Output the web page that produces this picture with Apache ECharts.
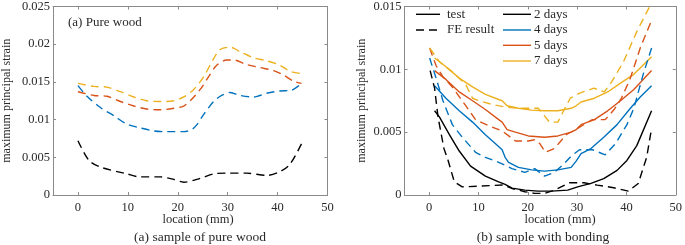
<!DOCTYPE html>
<html><head><meta charset="utf-8">
<script src="https://cdn.jsdelivr.net/npm/echarts@6/dist/echarts.min.js"></script>
<style>html,body{margin:0;padding:0;background:#fff}#c{width:685px;height:245px}</style>
</head><body><div id="c"></div>
<script>
// ---- (a) pure wood : FE results (dashed) ----
var pwBlack = [[0,0.0072],[2.2,0.0046],[4.5,0.0037],[9.8,0.0028],[12.5,0.0024],[16.5,0.0024],[19,0.0021],[21.2,0.0017],[24.5,0.0022],[27.2,0.0028],[29.8,0.0029],[33.8,0.0029],[37.8,0.0026],[40.5,0.0031],[42.5,0.0041],[44.8,0.0068]];
var pwBlue = [[0,0.0145],[1.8,0.0131],[4.5,0.0116],[7.2,0.0105],[9.8,0.0094],[12.5,0.0089],[15.2,0.0085],[17.8,0.0084],[21.2,0.0084],[22.8,0.0087],[23.8,0.0093],[25.2,0.0107],[27.2,0.0124],[28.8,0.0132],[30.5,0.0136],[32.5,0.0132],[35.2,0.0130],[37.8,0.0135],[40.5,0.0138],[42.8,0.0139],[44.8,0.0148]];
var pwOrange = [[0,0.0137],[3.2,0.0132],[5.8,0.0131],[8.5,0.0124],[11.2,0.0118],[13.8,0.0114],[16.5,0.0113],[19.2,0.0115],[21.2,0.0118],[22.8,0.0127],[24.5,0.0140],[26.2,0.0157],[27.8,0.0172],[29.8,0.0179],[31.2,0.0179],[33.8,0.0173],[36.5,0.0169],[39.2,0.0165],[41.2,0.0159],[43.2,0.0151],[44.8,0.0148]];
var pwYellow = [[0,0.0148],[3.2,0.0144],[5.8,0.0143],[8.5,0.0137],[11.2,0.0130],[13.8,0.0125],[16.5,0.0124],[19.2,0.0125],[21.2,0.0130],[23.2,0.0140],[25.2,0.0157],[27.2,0.0181],[28.5,0.0193],[30.5,0.0196],[32.5,0.0190],[35.2,0.0182],[37.8,0.0178],[40.5,0.0172],[42.5,0.0164],[44.8,0.0161]];

// ---- (b) with bonding : test (solid) ----
var tBlack = [[1.1,0.0067],[2.1,0.0062],[4.1,0.0048],[6.1,0.0035],[8.4,0.0023],[11.4,0.0015],[14.1,0.00105],[15.4,0.00084],[16.8,0.00055],[19.4,0.00039],[22.1,0.00031],[24.8,0.00031],[28.1,0.00039],[30.1,0.00065],[32.8,0.00092],[35.4,0.00131],[38.1,0.00196],[40.1,0.00275],[42.1,0.00393],[45.1,0.0067]];
var tBlue = [[1.1,0.0087],[3.4,0.0077],[6.1,0.0067],[8.8,0.0058],[11.4,0.0048],[13.4,0.0041],[14.8,0.0036],[15.4,0.0030],[16.1,0.0026],[18.1,0.0022],[20.8,0.0020],[23.4,0.0019],[26.1,0.0020],[28.8,0.0022],[29.8,0.0027],[30.8,0.0033],[32.8,0.0037],[35.4,0.0046],[38.1,0.0056],[40.8,0.0069],[42.8,0.0078],[45.1,0.0087]];
var tOrange = [[1.1,0.0099],[3.4,0.0092],[6.1,0.0082],[8.8,0.0075],[11.4,0.0068],[14.1,0.0060],[14.8,0.0058],[15.8,0.0052],[17.5,0.0050],[20.1,0.0047],[23.4,0.0046],[26.1,0.0047],[28.8,0.0050],[29.8,0.0052],[30.8,0.0056],[33.5,0.0060],[36.2,0.0067],[38.8,0.0075],[41.5,0.0084],[45.1,0.0099]];
var tYellow = [[1.1,0.0109],[3.4,0.0102],[6.1,0.0093],[8.8,0.0086],[11.4,0.0080],[14.1,0.0076],[14.8,0.0075],[15.8,0.0071],[18.1,0.0069],[20.8,0.00675],[23.4,0.0067],[26.1,0.0067],[28.8,0.0069],[29.8,0.0071],[30.8,0.0074],[33.5,0.0077],[36.2,0.0082],[38.8,0.0089],[41.5,0.0096],[45.1,0.0110]];

// ---- (b) with bonding : FE result (dashed) ----
var fBlack = [[0.2,0.0099],[1.1,0.0085],[1.8,0.0062],[3,0.0037],[3.8,0.0028],[5.1,0.00105],[6.7,0.00065],[10.1,0.0007],[15.1,0.0008],[16.8,0.00052],[19.4,0.00026],[21.4,0.00013],[23.4,0.00013],[25.4,0.00039],[28.4,0.00097],[31.4,0.00097],[34.1,0.00079],[37.4,0.00058],[40.4,0.00031],[42.4,0.00092],[44.1,0.0030],[45.1,0.0053]];
var fBlue = [[0.1,0.0109],[1.4,0.0093],[2.8,0.0075],[4.7,0.0056],[6.7,0.0046],[9.4,0.0034],[11.4,0.0030],[14.1,0.0026],[16.8,0.0021],[19.4,0.0018],[21.4,0.0021],[23.4,0.0015],[25.4,0.0018],[27.4,0.0025],[28.8,0.0031],[30.5,0.0036],[33.1,0.0036],[35.7,0.0032],[37.8,0.0041],[40.1,0.0056],[41.5,0.0069],[43.4,0.0096],[45.1,0.0117]];
var fOrange = [[0.1,0.0117],[1.4,0.0103],[2.8,0.0094],[4.7,0.0086],[6.7,0.0075],[9.4,0.0060],[12.1,0.0055],[14.8,0.0051],[17.5,0.0043],[20.1,0.0043],[21.4,0.0044],[22.4,0.0041],[23.6,0.0034],[25.4,0.0037],[27.8,0.0048],[30.1,0.0053],[33.1,0.0060],[35.7,0.0060],[37.5,0.0068],[39,0.0077],[40.8,0.0093],[42.8,0.0117],[45.1,0.0139]];
var fYellow = [[0.1,0.0117],[2.1,0.0106],[4.7,0.0098],[7.4,0.0088],[8.8,0.0077],[10.1,0.0075],[12.8,0.0072],[15.4,0.0070],[18.1,0.0069],[20.8,0.0069],[22.1,0.0069],[23.4,0.0063],[24.4,0.0058],[26.1,0.0058],[27.4,0.0068],[28.6,0.0077],[30.5,0.0081],[33.4,0.0085],[35.5,0.0082],[37,0.0090],[39.4,0.0106],[42.1,0.0130],[45.1,0.0153]];

var xTicks = [0, 10, 20, 30, 40, 50];
var yTicksA = [0, 0.005, 0.01, 0.015, 0.02, 0.025];
var yTicksB = [0, 0.005, 0.01, 0.015];
var legendTest = ['test', 'FE result'];
var legendDays = ['2 days', '4 days', '5 days', '7 days'];

var C = {black:'#000000', blue:'#0072BD', orange:'#D95319', yellow:'#EDB120'};
var FONT = 'Liberation Serif';
var axisCol = '#8a8a8a', labCol = '#2a2a2a';
var dash = [8, 5];

function xAx(gi, pos) {
  var bottom = pos === 'bottom';
  return {
    type:'value', gridIndex:gi, position:pos, min:-5, max:50,
    axisLine:{show:true, onZero:false, lineStyle:{color:axisCol, width:1}},
    axisTick:{show:true, inside:true, length:3, lineStyle:{color:axisCol}},
    splitLine:{show:false},
    axisLabel:{show:bottom, showMinLabel:false, margin:6, color:labCol, fontFamily:FONT, fontSize:12.5,
      formatter:function(v){return xTicks.indexOf(v) >= 0 ? String(v) : '';}}
  };
}
function yAx(gi, pos, max, nameGap) {
  var left = pos === 'left';
  var ticks = max > 0.02 ? yTicksA : yTicksB;
  return {
    type:'value', gridIndex:gi, position:pos, min:0, max:max, interval:0.005,
    name: left ? 'maximum principal strain' : '', nameLocation:'middle', nameGap:nameGap,
    nameTextStyle:{color:labCol, fontFamily:FONT, fontSize:12},
    axisLine:{show:true, onZero:false, lineStyle:{color:axisCol, width:1}},
    axisTick:{show:true, inside:true, length:3, lineStyle:{color:axisCol}},
    splitLine:{show:false},
    axisLabel:{show:left, margin:3, color:labCol, fontFamily:FONT, fontSize:12.5,
      formatter:function(v){var r = +v.toFixed(3); return ticks.indexOf(r) >= 0 ? String(r) : '';}}
  };
}
function ln(data, color, dashed, xi, yi) {
  return {type:'line', data:data, xAxisIndex:xi, yAxisIndex:yi, showSymbol:false, symbol:'none',
    smooth:dashed && xi < 2 && yi === 0 ? 0.3 : false, clip:true, animation:false,
    lineStyle:{color:color, width:1.4, type: dashed ? dash : 'solid'}};
}

var graphics = [];
function txt(x, y, s, size, align) {
  graphics.push({type:'text', x:x, y:y, style:{text:s, fill:labCol, font:size+'px "'+FONT+'"', textAlign:align||'left', textVerticalAlign:'middle'}});
}
function seg(x1, x2, y, color, dashed) {
  graphics.push({type:'line', shape:{x1:x1, y1:y, x2:x2, y2:y}, style:{stroke:color, lineWidth:1.4, lineDash: dashed ? [8,5] : null}});
}
txt(68, 23, '(a) Pure wood', 13);
txt(198, 220, 'location (mm)', 12.5, 'center');
txt(200, 237, '(a) sample of pure wood', 13.5, 'center');
txt(560, 220, 'location (mm)', 12.5, 'center');
txt(543, 237, '(b) sample with bonding', 13.5, 'center');
// legend
seg(416, 440, 14.3, C.black, false); txt(447, 14.3, legendTest[0], 13);
seg(416, 441, 30, C.black, true); txt(447, 30, legendTest[1], 13);
var dayCols = [C.black, C.blue, C.orange, C.yellow];
var rows = [14.3, 30, 45.3, 61];
for (var i = 0; i < 4; i++) { seg(503, 531, rows[i], dayCols[i], false); txt(534, rows[i], legendDays[i], 13); }

var chart = echarts.init(document.getElementById('c'), null, {renderer:'canvas'});
chart.setOption({
  animation:false,
  grid:[{left:52.5, top:4, width:275, height:191}, {left:404.5, top:4, width:275, height:191}],
  xAxis:[xAx(0,'bottom'), xAx(1,'bottom'), xAx(0,'top'), xAx(1,'top')],
  yAxis:[yAx(0,'left',0.025,40), yAx(1,'left',0.015,37), yAx(0,'right',0.025,0), yAx(1,'right',0.015,0)],
  series:[
    ln(pwBlack, C.black, true, 0, 0), ln(pwBlue, C.blue, true, 0, 0), ln(pwOrange, C.orange, true, 0, 0), ln(pwYellow, C.yellow, true, 0, 0),
    ln(tBlack, C.black, false, 1, 1), ln(tBlue, C.blue, false, 1, 1), ln(tOrange, C.orange, false, 1, 1), ln(tYellow, C.yellow, false, 1, 1),
    ln(fBlack, C.black, true, 1, 1), ln(fBlue, C.blue, true, 1, 1), ln(fOrange, C.orange, true, 1, 1), ln(fYellow, C.yellow, true, 1, 1)
  ],
  graphic: graphics
});
</script></body></html>
